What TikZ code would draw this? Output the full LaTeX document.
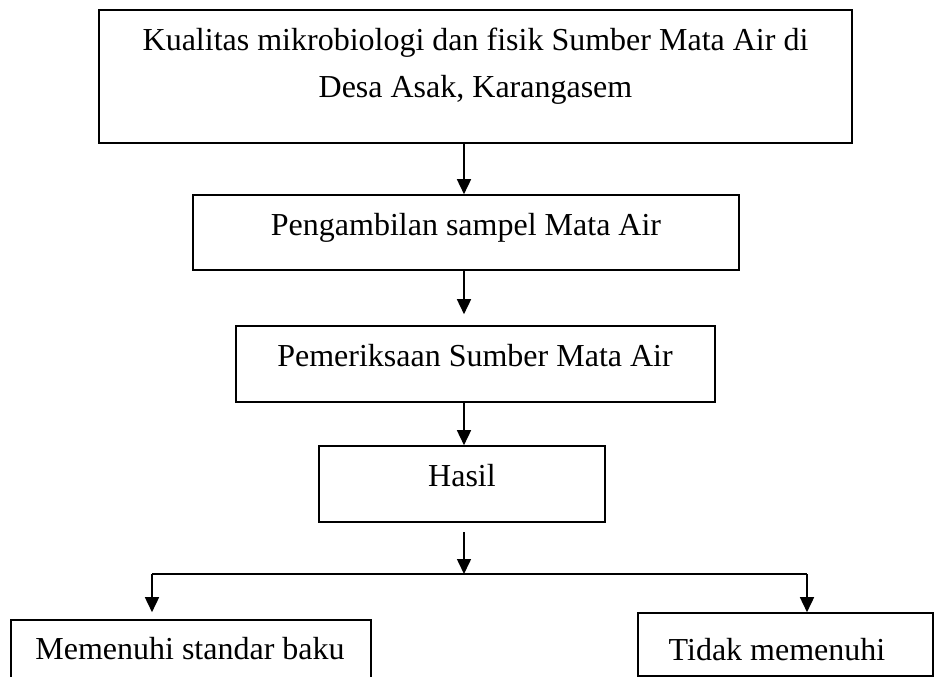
\documentclass[tikz,border=0pt]{standalone}
\usepackage{fontspec}
\setmainfont{Liberation Serif}
\usetikzlibrary{arrows.meta}
\tikzset{
  boxnode/.style={draw=black, line width=1.6pt, rectangle, inner sep=0pt},
  txt/.style={anchor=base, inner sep=0pt, font=\fontsize{32}{46}\selectfont},
  arr/.style={line width=1.6pt, -{Triangle[width=14pt,length=15pt]}},
  ln/.style={line width=1.6pt}
}
\newcommand{\boxat}[5]{% name, x1, y1, x2, y2
  \node[boxnode, minimum width={#4-#2}, minimum height={#5-#3}] (#1) at ({(#2+#4)/2},{(#3+#5)/2}) {};}
\begin{document}
\begin{tikzpicture}[x=1pt,y=-1pt]
\useasboundingbox (0,0) rectangle (935,677);
\clip (0,0) rectangle (935,677);
\fill[white] (0,0) rectangle (935,677);
% boxes
\boxat{b1}{99}{10}{852}{143}
\boxat{b2}{193}{195}{739}{270}
\boxat{b3}{236}{326}{715}{402}
\boxat{b4}{319}{446}{605}{522}
\boxat{b5}{11}{620}{371}{710}
\boxat{b6}{638}{613}{933}{676}
% texts
\node[txt] (t1a) at (475.5,51) {Kualitas mikrobiologi dan fisik Sumber Mata Air di};
\node[txt] (t1b) at (475.5,97) {Desa Asak, Karangasem};
\node[txt] (t2) at (466,235) {Pengambilan sampel Mata Air};
\node[txt] (t3) at (475,366) {Pemeriksaan Sumber Mata Air};
\node[txt] (t4) at (462,486) {Hasil};
\node[txt] (t5) at (190,659) {Memenuhi standar baku};
\node[txt] (t6) at (777,660) {Tidak memenuhi};
% coordinates
\coordinate (ax) at (464,0);
\coordinate (s0) at (464,532);
\coordinate (j) at (464,574);
\coordinate (jl) at (152,574);
\coordinate (jr) at (807,574);
% connectors
\draw[arr] (b1.south -| ax) -- (b2.north -| ax);
\draw[arr, shorten >=11pt] (b2.south -| ax) -- (b3.north -| ax);
\draw[arr] (b3.south -| ax) -- (b4.north -| ax);
\draw[arr] (s0) -- (j);
\draw[ln] (jl) -- (jr);
\draw[arr, shorten >=7pt] (jl) -- (b5.north -| jl);
\draw[arr] (jr) -- (b6.north -| jr);
\end{tikzpicture}
\end{document}
